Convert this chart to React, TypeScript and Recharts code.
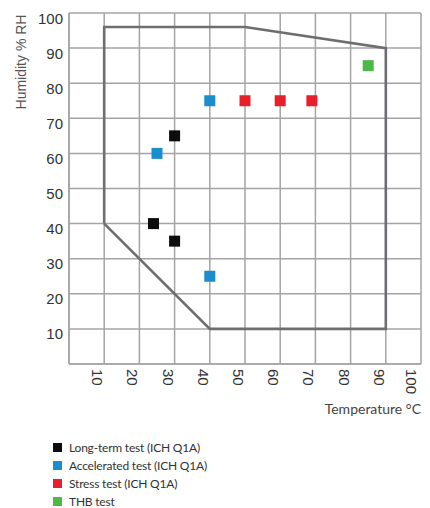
import React from 'react';
import { ScatterChart, Scatter, XAxis, YAxis, CartesianGrid } from 'recharts';

// Chart data (temperature °C, humidity % RH)
const chamberRange = [
    { t: 10, h: 40 }, { t: 10, h: 96 }, { t: 50, h: 96 }, { t: 90, h: 90 },
    { t: 90, h: 10 }, { t: 40, h: 10 }, { t: 10, h: 40 },
];
const longTerm = [{ t: 24, h: 40 }, { t: 30, h: 65 }, { t: 30, h: 35 }];
const accelerated = [{ t: 25, h: 60 }, { t: 40, h: 75 }, { t: 40, h: 25 }];
const stress = [{ t: 50, h: 75 }, { t: 60, h: 75 }, { t: 69, h: 75 }];
const thb = [{ t: 85, h: 85 }];

const xTicks = [10, 20, 30, 40, 50, 60, 70, 80, 90, 100];
const yTicks = [10, 20, 30, 40, 50, 60, 70, 80, 90, 100];

const legendItems = [
    { label: 'Long-term test (ICH Q1A)', color: '#0d0d0d' },
    { label: 'Accelerated test (ICH Q1A)', color: '#1b8ccc' },
    { label: 'Stress test (ICH Q1A)', color: '#e81e2a' },
    { label: 'THB test', color: '#4db848' },
];

const GRID = '#a4a4a4';
const SANS = '"Liberation Sans", Arial, sans-serif';
const HUMAN = 'Lato, "Open Sans", sans-serif';

const square = (color: string) => (props: any) => {
    const { cx, cy } = props;
    if (cx == null || cy == null) return <g />;
    return <rect x={cx - 5.5} y={cy - 5.5} width={11} height={11} fill={color} />;
};

const XTick = (props: any) => {
    const { x, y, payload } = props;
    return (
        <g transform={`translate(${x},${y}) rotate(90)`}>
            <text x={0} y={12} textAnchor="start" fontSize={15} fontFamily={SANS} fill="#333">
                {payload.value}
            </text>
        </g>
    );
};

const YTick = (props: any) => {
    const { x, y, payload } = props;
    return (
        <text x={x} y={y + 10.5} textAnchor="end" fontSize={15} fontFamily={SANS} fill="#333">
            {payload.value}
        </text>
    );
};

export default function App() {
    return (
        <div style={{ position: 'absolute', left: 0, top: 0, width: 430, height: 508, background: '#fff' }}>
            <ScatterChart width={430} height={430} margin={{ top: 13, right: 9, bottom: 0, left: 0 }}>
                <CartesianGrid stroke={GRID} strokeWidth={1.5} />
                <XAxis
                    type="number"
                    dataKey="t"
                    domain={[0, 100]}
                    ticks={xTicks}
                    height={66}
                    tickSize={0}
                    tickMargin={5}
                    axisLine={{ stroke: GRID, strokeWidth: 1.5 }}
                    tick={<XTick />}
                />
                <YAxis
                    type="number"
                    dataKey="h"
                    domain={[0, 100]}
                    ticks={yTicks}
                    width={69}
                    tickSize={0}
                    tickMargin={6}
                    axisLine={{ stroke: GRID, strokeWidth: 1.5 }}
                    tick={<YTick />}
                />
                <Scatter
                    data={chamberRange}
                    line={{ stroke: '#6e6e72', strokeWidth: 2.6 }}
                    shape={() => <g />}
                    isAnimationActive={false}
                    legendType="none"
                />
                <Scatter data={longTerm} shape={square('#0d0d0d')} isAnimationActive={false} />
                <Scatter data={accelerated} shape={square('#1b8ccc')} isAnimationActive={false} />
                <Scatter data={stress} shape={square('#e81e2a')} isAnimationActive={false} />
                <Scatter data={thb} shape={square('#4db848')} isAnimationActive={false} />
                <text
                    transform="translate(26,62) rotate(-90)"
                    textAnchor="middle"
                    fontSize={14}
                    fontFamily={SANS}
                    fill="#555"
                >
                    Humidity % RH
                </text>
                <text x={421} y={414} textAnchor="end" fontSize={14} fontFamily={HUMAN} fill="#444">
                    Temperature °C
                </text>
            </ScatterChart>
            <div style={{ position: 'absolute', left: 53, top: 438, fontFamily: HUMAN, fontSize: 12, letterSpacing: -0.2, color: '#333' }}>
                {legendItems.map(item => (
                    <div key={item.label} style={{ display: 'flex', alignItems: 'center', height: 18 }}>
                        <span style={{ width: 9, height: 9, background: item.color, marginRight: 7, display: 'inline-block' }} />
                        <span>{item.label}</span>
                    </div>
                ))}
            </div>
        </div>
    );
}
